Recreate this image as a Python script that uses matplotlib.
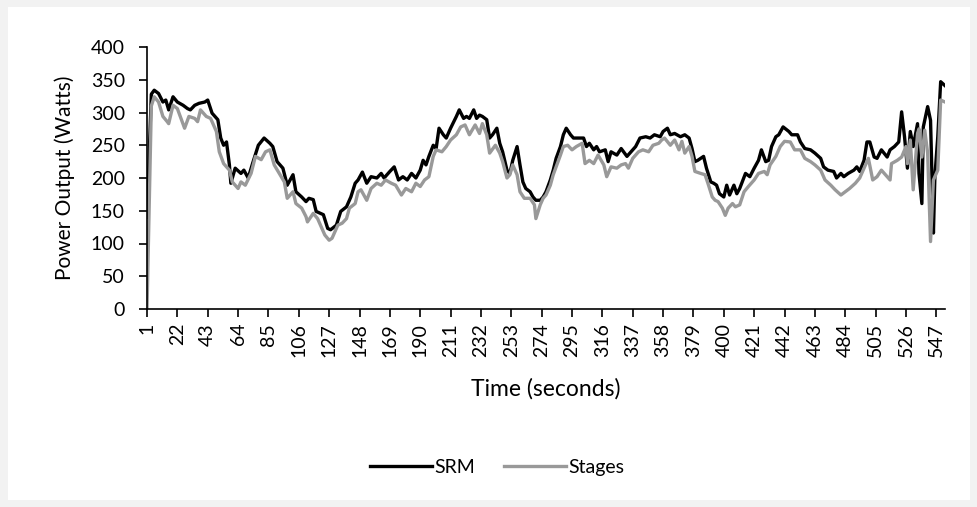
import matplotlib
matplotlib.use("Agg")
import matplotlib.pyplot as plt
from matplotlib.patches import Rectangle

# values (time in s, power in W)
srm_t = [1, 4, 6, 9, 12, 14, 16, 19, 22, 26, 29, 31, 34, 37, 41, 43, 46, 50, 52, 54,
         56, 58, 59, 62, 66, 68, 71, 74, 78, 82, 86, 88, 91, 95, 98, 102, 104, 108, 111, 113,
         116, 118, 123, 126, 128, 132, 135, 139, 142, 145, 147, 150, 153, 156, 160, 163, 165, 169, 172, 175,
         178, 181, 184, 187, 190, 192, 194, 196, 199, 201, 203, 206, 208, 211, 215, 217, 220, 222, 224, 227,
         229, 231, 233, 236, 238, 240, 243, 245, 247, 250, 252, 254, 257, 259, 261, 263, 266, 268, 270, 273,
         275, 277, 280, 282, 284, 287, 289, 291, 294, 296, 299, 303, 305, 307, 310, 312, 314, 318, 320, 322,
         326, 329, 333, 335, 339, 342, 346, 349, 352, 356, 358, 361, 363, 366, 370, 373, 376, 378, 380, 382,
         386, 388, 391, 393, 395, 397, 400, 402, 404, 407, 409, 411, 415, 418, 421, 424, 426, 429, 431, 433,
         436, 438, 441, 445, 447, 451, 453, 456, 460, 463, 467, 469, 472, 476, 478, 481, 483, 486, 490, 492,
         494, 497, 499, 501, 504, 506, 509, 513, 515, 518, 521, 523, 525, 527, 529, 531, 534, 535, 537, 538,
         541, 543, 545, 546, 548, 550, 553]
srm_w = [140, 328, 334, 329, 316, 319, 304, 324, 316, 311, 306, 304, 311, 314, 316, 319, 299, 289, 261, 250,
         255, 220, 192, 215, 207, 212, 200, 222, 250, 261, 253, 248, 225, 215, 189, 205, 179, 171, 164, 169,
         167, 149, 144, 123, 121, 128, 149, 156, 171, 192, 197, 209, 192, 202, 200, 207, 200, 210, 217, 197,
         202, 197, 207, 200, 212, 227, 220, 233, 250, 245, 276, 266, 261, 276, 294, 304, 291, 294, 291, 304,
         291, 296, 294, 289, 261, 266, 276, 253, 240, 212, 207, 227, 248, 220, 194, 184, 179, 171, 166, 166,
         171, 179, 197, 212, 230, 248, 266, 276, 266, 261, 261, 261, 248, 253, 243, 248, 240, 243, 225, 240,
         235, 245, 233, 238, 248, 261, 263, 261, 266, 263, 271, 276, 266, 268, 263, 266, 261, 245, 225, 227,
         233, 215, 194, 192, 189, 176, 171, 189, 174, 189, 176, 184, 207, 202, 215, 227, 243, 225, 227, 248,
         263, 266, 278, 271, 266, 266, 255, 245, 243, 238, 230, 217, 212, 210, 200, 207, 202, 207, 212, 217,
         210, 227, 255, 255, 232, 230, 243, 232, 243, 248, 255, 301, 263, 215, 271, 248, 283, 207, 161, 278,
         309, 288, 116, 202, 263, 347, 341]

stages_t = [1, 4, 6, 9, 12, 15, 16, 19, 22, 27, 30, 34, 36, 38, 42, 45, 49, 51, 54, 58,
            60, 64, 66, 69, 73, 76, 80, 83, 86, 89, 93, 96, 98, 102, 104, 108, 111, 112, 116, 119,
            124, 127, 129, 133, 136, 139, 141, 145, 147, 149, 153, 156, 160, 163, 166, 170, 173, 177, 180, 184,
            187, 190, 193, 196, 199, 201, 205, 208, 211, 215, 218, 221, 224, 228, 231, 233, 236, 238, 242, 245,
            247, 250, 252, 254, 257, 259, 262, 266, 269, 270, 273, 275, 277, 280, 282, 284, 287, 289, 292, 295,
            298, 302, 304, 307, 310, 313, 317, 319, 322, 326, 329, 332, 334, 337, 341, 344, 348, 351, 355, 357,
            359, 363, 366, 369, 371, 373, 376, 378, 380, 384, 387, 389, 392, 394, 396, 399, 401, 403, 406, 408,
            411, 414, 417, 421, 424, 428, 430, 432, 436, 439, 442, 446, 449, 453, 456, 460, 463, 467, 470, 474,
            477, 481, 484, 487, 491, 494, 498, 500, 503, 506, 509, 513, 515, 516, 520, 523, 526, 527, 529, 531,
            534, 535, 537, 539, 541, 543, 545, 548, 550, 553]
stages_w = [0, 310, 324, 316, 294, 286, 283, 311, 306, 276, 294, 291, 286, 304, 294, 291, 271, 240, 222, 212,
            194, 184, 194, 189, 207, 233, 228, 240, 243, 220, 205, 194, 169, 179, 161, 154, 141, 133, 146, 138,
            113, 105, 108, 128, 131, 138, 154, 161, 179, 182, 166, 184, 192, 189, 197, 192, 189, 174, 184, 179,
            192, 187, 197, 202, 233, 243, 240, 248, 258, 266, 278, 281, 266, 281, 268, 283, 266, 238, 250, 238,
            225, 200, 205, 220, 205, 179, 169, 169, 159, 138, 159, 169, 174, 189, 205, 217, 235, 248, 250, 243,
            248, 253, 222, 227, 222, 235, 220, 202, 217, 215, 220, 222, 215, 230, 240, 243, 240, 250, 253, 258,
            261, 250, 258, 243, 256, 238, 248, 233, 210, 207, 205, 192, 171, 166, 164, 154, 143, 154, 161, 156,
            159, 179, 187, 197, 207, 210, 205, 220, 233, 248, 256, 255, 243, 243, 230, 225, 220, 212, 197, 189,
            182, 174, 179, 184, 192, 200, 220, 230, 197, 202, 212, 202, 197, 222, 227, 232, 248, 222, 258, 182,
            268, 275, 232, 273, 238, 103, 197, 212, 319, 316]

tick_labels = list(range(1, 548, 21))

plt.rcParams['font.family'] = ['Lato', 'DejaVu Sans']

fig = plt.figure(figsize=(9.78, 5.07), dpi=100, facecolor='#f2f2f2')
fig.patches.append(Rectangle((8 / 978, 7 / 507), 962 / 978, 493 / 507, transform=fig.transFigure,
                             facecolor='white', edgecolor='none', zorder=-10))

ax = fig.add_axes([147 / 978, 198 / 507, 798 / 978, 262 / 507])
ax.set_zorder(1)
ax.set_facecolor('none')
ax.plot(srm_t, srm_w, color='black', lw=2.4, label='SRM', solid_joinstyle='round')
ax.plot(stages_t, stages_w, color='#999999', lw=2.4, label='Stages', solid_joinstyle='round')

ax.set_xlim(1, 553)
ax.set_ylim(0, 400)
ax.set_yticks(range(0, 401, 50))
ax.set_xticks(tick_labels)
ax.set_xticklabels([str(v) for v in tick_labels], rotation=90)

for s in ['top', 'right']:
    ax.spines[s].set_visible(False)
for s in ['left', 'bottom']:
    ax.spines[s].set_linewidth(1.2)
ax.tick_params(axis='y', length=6, width=1.2, pad=10, labelsize=14)
ax.tick_params(axis='x', length=6, width=1.2, pad=4, labelsize=14)

ax.set_ylabel('Power Output (Watts)', fontsize=15)
ax.yaxis.set_label_coords(-0.09, 0.5)
ax.set_xlabel('Time (seconds)', fontsize=16.5)
ax.xaxis.set_label_coords(0.5, -0.265)

ax.legend(loc='center', bbox_to_anchor=(0.508, 0.078), bbox_transform=fig.transFigure,
          ncol=2, frameon=False, fontsize=14, handlelength=3.2, handletextpad=0.1,
          columnspacing=1.5)

fig.savefig('out.png', dpi=100, facecolor=fig.get_facecolor())
